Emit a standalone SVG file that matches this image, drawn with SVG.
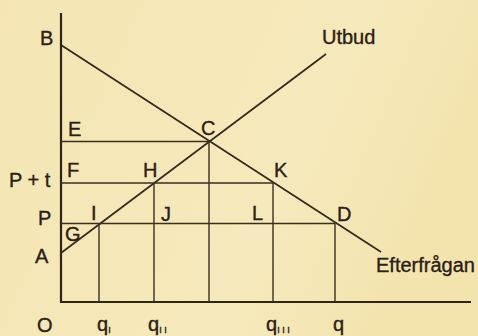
<svg xmlns="http://www.w3.org/2000/svg" width="478" height="336" viewBox="0 0 478 336">
<defs>
<linearGradient id="bg" x1="0" y1="0" x2="1" y2="0.3">
<stop offset="0" stop-color="#f4e5b3"/>
<stop offset="0.7" stop-color="#f6e9bb"/>
<stop offset="1" stop-color="#f3e4ae"/>
</linearGradient>
<style>
.ax{stroke:#2e2418;stroke-width:2.2;fill:none}
.ln{stroke:#33281b;stroke-width:1.7;fill:none}
.th{stroke:#3a2e20;stroke-width:1.4;fill:none}
.lb{font-family:"Liberation Sans",Arial,sans-serif;font-size:20px;fill:#2a2016;stroke:#2a2016;stroke-width:0.35}
.sb{font-size:9px}
</style>
</defs>
<rect width="478" height="336" fill="url(#bg)"/>
<g id="connectors">
<path class="ax" d="M61,13 V302 H471"/>
<line id="demand" class="ln" x1="61" y1="45" x2="381" y2="252"/>
<line id="supply" class="ln" x1="61" y1="253" x2="326" y2="54"/>
<line class="th" x1="61" y1="141.5" x2="209" y2="141.5"/>
<line class="th" x1="61" y1="183" x2="273" y2="183"/>
<line class="th" x1="61" y1="223.5" x2="335" y2="223.5"/>
<line class="th" x1="99" y1="223.5" x2="99" y2="302"/>
<line class="th" x1="154" y1="183" x2="154" y2="302"/>
<line class="th" x1="209" y1="141.5" x2="209" y2="302"/>
<line class="th" x1="273" y1="183" x2="273" y2="302"/>
<line class="th" x1="335" y1="223.5" x2="335" y2="302"/>
</g>
<g id="labels">
<text id="B" class="lb" x="40" y="45">B</text>
<text id="E" class="lb" x="68" y="136">E</text>
<text id="C" class="lb" x="201" y="135">C</text>
<text id="Pt" class="lb" x="9" y="187">P + t</text>
<text id="F" class="lb" x="67" y="177">F</text>
<text id="H" class="lb" x="143" y="177">H</text>
<text id="K" class="lb" x="274" y="177">K</text>
<text id="P" class="lb" x="38" y="225">P</text>
<text id="I" class="lb" x="91" y="220">I</text>
<text id="J" class="lb" x="161" y="221">J</text>
<text id="L" class="lb" x="252" y="220">L</text>
<text id="D" class="lb" x="337" y="221">D</text>
<text id="G" class="lb" x="65" y="241">G</text>
<text id="A" class="lb" x="35" y="263">A</text>
<text id="O" class="lb" x="37" y="332">O</text>
<text id="qI" class="lb" x="97" y="331">q<tspan class="sb" dy="2">I</tspan></text>
<text id="qII" class="lb" x="148" y="331">q<tspan class="sb" dy="2">I I</tspan></text>
<text id="qIII" class="lb" x="266" y="331">q<tspan class="sb" dy="2">I I I</tspan></text>
<text id="q" class="lb" x="333" y="331">q</text>
<text id="Utbud" class="lb" x="322" y="44">Utbud</text>
<text id="Efterfragan" class="lb" x="376" y="272">Efterfrågan</text>
</g>
</svg>
